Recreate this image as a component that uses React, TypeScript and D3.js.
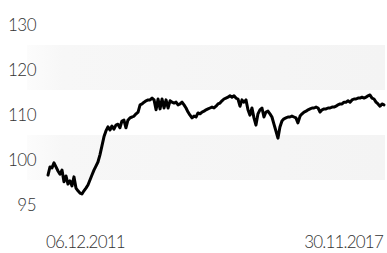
import { useEffect, useRef } from 'react';
import * as d3 from 'd3';

// index level, sampled roughly every two weeks between the two end dates
const START_DATE = '2011-12-06';
const END_DATE = '2017-11-30';
const VALUES = [
  96.1, 97.9, 97.7, 98.8, 97.9, 97.0, 96.3, 97.2, 94.6, 95.9,
  94.1, 94.8, 93.7, 95.7, 93.2, 92.6, 92.1, 91.9, 92.6, 93.2,
  93.9, 95.0, 96.1, 97.2, 98.1, 99.0, 100.6, 102.6, 104.6, 105.9,
  106.8, 106.1, 107.0, 106.3, 107.2, 107.4, 106.6, 108.1, 108.3, 106.6,
  108.3, 108.8, 109.0, 109.2, 109.7, 110.1, 111.7, 111.9, 112.3, 112.6,
  112.8, 112.8, 113.2, 112.8, 110.6, 113.0, 110.8, 113.0, 111.0, 112.8,
  111.0, 112.6, 112.3, 112.1, 112.3, 111.7, 111.9, 112.3, 111.7, 111.0,
  110.1, 109.4, 108.8, 109.2, 109.0, 109.9, 109.7, 110.1, 110.3, 110.6,
  110.8, 111.0, 111.2, 111.0, 111.4, 111.9, 112.1, 112.6, 113.0, 113.2,
  113.4, 113.7, 113.4, 113.7, 113.2, 113.0, 111.4, 112.8, 112.3, 112.8,
  110.6, 109.4, 111.0, 108.8, 107.2, 109.7, 110.6, 111.0, 109.0, 110.1,
  110.3, 109.7, 109.0, 107.4, 105.9, 104.3, 106.8, 108.1, 108.6, 108.8,
  109.0, 109.0, 109.2, 109.0, 108.8, 107.7, 109.2, 109.7, 110.1, 110.3,
  110.6, 110.8, 111.0, 111.0, 111.2, 111.0, 110.1, 110.6, 110.8, 110.8,
  111.0, 111.0, 111.2, 111.2, 111.4, 111.7, 111.9, 111.9, 112.3, 112.3,
  112.6, 112.3, 112.8, 113.0, 113.0, 113.2, 113.2, 113.4, 113.2, 113.4,
  113.7, 113.9, 113.2, 113.0, 112.3, 111.9, 111.4, 111.9, 111.7,
];
const Y_LABELS = ['130', '120', '110', '100', '95'];
const X_LABELS = ['06.12.2011', '30.11.2017'];

const W = 387;
const H = 253;

export default function App() {
  const ref = useRef<SVGSVGElement>(null);

  useEffect(() => {
    if (!ref.current) return;
    const svg = d3.select(ref.current);
    svg.selectAll('*').remove();

    const t0 = new Date(START_DATE + 'T00:00:00');
    const t1 = new Date(END_DATE + 'T00:00:00');
    const span = d3.timeDay.count(t0, t1);
    const data = VALUES.map((v, i) => ({
      date: d3.timeDay.offset(t0, Math.round((i * span) / (VALUES.length - 1))),
      value: v,
    }));

    // label rows, one every 45px; alternate rows get a grey band
    const rows = d3.scaleBand<string>().domain(Y_LABELS).range([0, 225]);
    const x = d3.scaleTime().domain([t0, t1]).range([48, 384]);
    const y = d3.scaleLinear().domain([100, 110]).range([157.5, 112.5]);

    const grad = svg.append('defs').append('linearGradient').attr('id', 'bandFill');
    grad.append('stop').attr('offset', '0').attr('stop-color', '#fcfcfc');
    grad.append('stop').attr('offset', '0.1').attr('stop-color', '#f7f7f7');
    grad.append('stop').attr('offset', '1').attr('stop-color', '#f4f4f4');

    svg.append('g')
      .selectAll('rect')
      .data(Y_LABELS.filter((_, i) => i % 2 === 1))
      .join('rect')
      .attr('x', 27)
      .attr('width', 358)
      .attr('y', (d) => rows(d)!)
      .attr('height', rows.bandwidth())
      .attr('fill', 'url(#bandFill)');

    svg.append('g')
      .selectAll('text')
      .data(Y_LABELS)
      .join('text')
      .attr('x', 36)
      .attr('y', (d) => rows(d)! + rows.bandwidth() / 2 + 8)
      .attr('text-anchor', 'end')
      .style('font-family', 'Lato, sans-serif')
      .style('font-weight', 300)
      .style('font-size', '17px')
      .style('letter-spacing', '-0.5px')
      .attr('fill', '#333')
      .text((d) => d);

    const line = d3
      .line<{ date: Date; value: number }>()
      .x((d) => x(d.date))
      .y((d) => y(d.value));

    svg.append('path')
      .datum(data)
      .attr('d', line)
      .attr('fill', 'none')
      .attr('stroke', '#000')
      .attr('stroke-width', 3)
      .attr('stroke-linejoin', 'round')
      .attr('stroke-linecap', 'round');

    svg.append('text')
      .attr('x', x(t0) - 2)
      .attr('y', 248)
      .style('font-family', 'Lato, sans-serif')
      .style('font-weight', 300)
      .style('font-size', '17px')
      .style('letter-spacing', '-0.8px')
      .attr('fill', '#333')
      .text(X_LABELS[0]);

    svg.append('text')
      .attr('x', x(t1) - 1)
      .attr('y', 248)
      .attr('text-anchor', 'end')
      .style('font-family', 'Lato, sans-serif')
      .style('font-weight', 300)
      .style('font-size', '17px')
      .style('letter-spacing', '-0.8px')
      .attr('fill', '#333')
      .text(X_LABELS[1]);
  }, []);

  return (
    <svg
      ref={ref}
      width={W}
      height={H}
      style={{ position: 'absolute', left: 0, top: 0, background: '#fff' }}
    />
  );
}
